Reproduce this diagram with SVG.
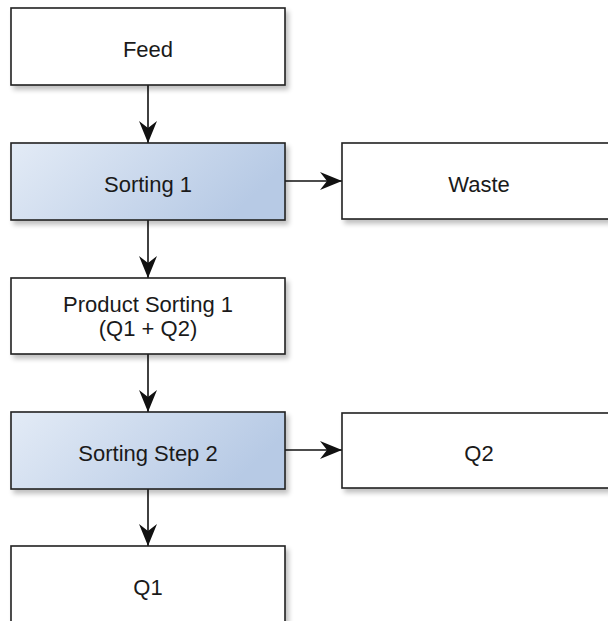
<svg xmlns="http://www.w3.org/2000/svg" width="608" height="621" viewBox="0 0 608 621">
<defs>
<linearGradient id="blue" x1="0" y1="0" x2="1" y2="0.3">
<stop offset="0" stop-color="#e3ebf6"/>
<stop offset="1" stop-color="#b7cae5"/>
</linearGradient>
<filter id="sh" x="-10%" y="-10%" width="130%" height="140%">
<feGaussianBlur in="SourceAlpha" stdDeviation="2.5"/>
<feOffset dx="3" dy="4" result="b"/>
<feComponentTransfer><feFuncA type="linear" slope="0.25"/></feComponentTransfer>
<feMerge><feMergeNode/><feMergeNode in="SourceGraphic"/></feMerge>
</filter>
<marker id="arr" markerWidth="22" markerHeight="18" viewBox="0 0 22 18" refX="22" refY="9" orient="auto" markerUnits="userSpaceOnUse">
<path d="M0,0 L22,9 L0,18 L7,9 Z" fill="#111"/>
</marker>
</defs>
<style>
.box{fill:#fff;stroke:#222;stroke-width:1.6;filter:url(#sh)}
.blue{fill:url(#blue)}
.t{font-family:"Liberation Sans",Arial,sans-serif;font-size:22px;fill:#1a1a1a;text-anchor:middle}
.c{stroke:#111;stroke-width:1.6;fill:none;marker-end:url(#arr)}
</style>
<rect width="608" height="621" fill="#fff"/>
<g id="connectors">
<line class="c" x1="148" y1="85" x2="148" y2="143"/>
<line class="c" x1="148" y1="220" x2="148" y2="278"/>
<line class="c" x1="148" y1="354" x2="148" y2="412"/>
<line class="c" x1="148" y1="489" x2="148" y2="546"/>
<line class="c" x1="285" y1="181" x2="342" y2="181"/>
<line class="c" x1="285" y1="450" x2="342" y2="450"/>
</g>
<g id="feed"><rect class="box" x="11" y="8" width="274" height="77"/><text class="t" x="148" y="57">Feed</text></g>
<g id="sorting1"><rect class="box blue" x="11" y="143" width="274" height="77"/><text class="t" x="148" y="192">Sorting 1</text></g>
<g id="waste"><rect class="box" x="342" y="143" width="274" height="76"/><text class="t" x="479" y="192">Waste</text></g>
<g id="product1"><rect class="box" x="11" y="278" width="274" height="76"/><text class="t" x="148" y="312">Product Sorting 1</text><text class="t" x="148" y="336">(Q1 + Q2)</text></g>
<g id="sorting2"><rect class="box blue" x="11" y="412" width="274" height="77"/><text class="t" x="148" y="461">Sorting Step 2</text></g>
<g id="q2"><rect class="box" x="342" y="413" width="274" height="75"/><text class="t" x="479" y="461">Q2</text></g>
<g id="q1"><rect class="box" x="11" y="546" width="274" height="90"/><text class="t" x="148" y="595">Q1</text></g>
</svg>
